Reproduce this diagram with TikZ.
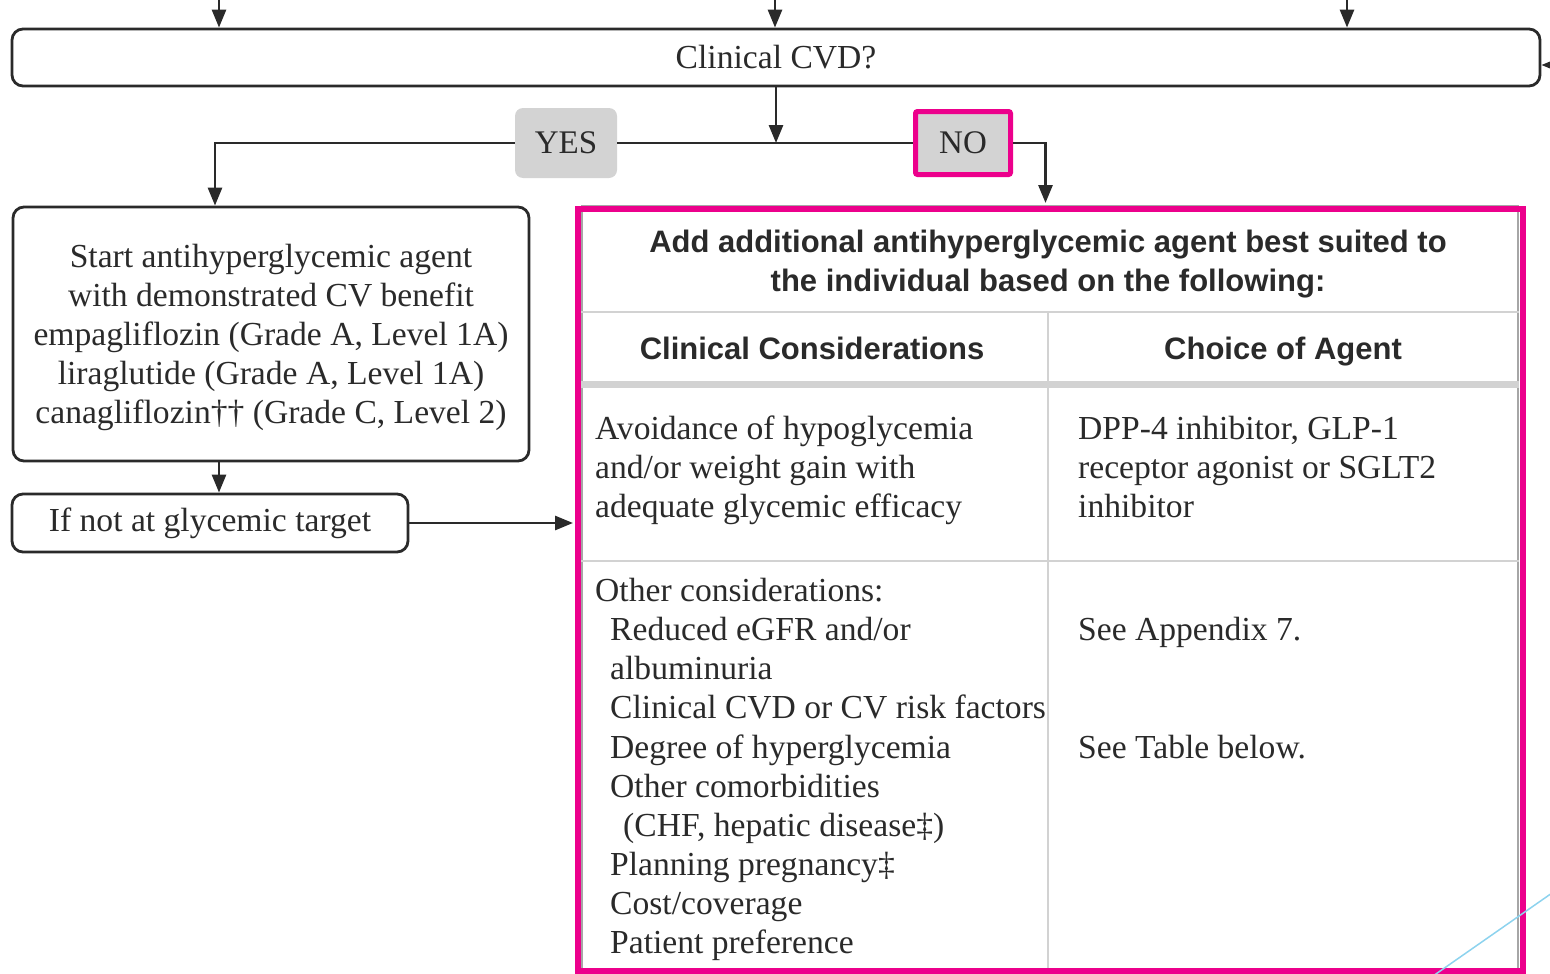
\documentclass[tikz,border=0pt]{standalone}
\usepackage{fontspec}
\setmainfont{Liberation Serif}
\newfontfamily\hdrfont{Liberation Sans}
\usetikzlibrary{arrows.meta,calc}
\definecolor{mag}{HTML}{EC008C}
\definecolor{ink}{HTML}{2A2A2A}
\definecolor{boxgray}{HTML}{D3D3D3}
\definecolor{rulegray}{HTML}{D2D2D2}
\definecolor{cyanl}{HTML}{8DD3EE}
\tikzset{
  box/.style={draw=ink, line width=2.8pt, rounded corners=11pt, fill=white, inner sep=0pt,
    font=\fontsize{33.6}{39}\selectfont, text=ink, align=center},
  arr/.style={draw=ink, line width=2.8pt, -{Triangle[length=18pt,width=14pt]}},
  conn/.style={draw=ink, line width=2.8pt},
  lbl/.style={fill=boxgray, rounded corners=8pt, inner sep=0pt, font=\fontsize{33}{39}\selectfont, text=ink},
  body/.style={font=\fontsize{33.6}{39}\selectfont, text=ink, inner sep=0pt},
  hdr/.style={font=\hdrfont\bfseries\fontsize{31}{39}\selectfont, text=ink, inner sep=0pt, align=center},
  thinrule/.style={draw=rulegray, line width=2pt}
}
\begin{document}
\begin{tikzpicture}[x=1pt,y=-1pt]
\useasboundingbox (0,0) rectangle (1550,974);
% top box
\node[box, minimum width=1528pt, minimum height=57pt] (cvd) at (776,57.5) {Clinical CVD?};
% incoming stubs
\coordinate (in1) at (219,0);
\coordinate (in2) at (775,0);
\coordinate (in3) at (1347,0);
\coordinate (in4) at (1568,65);
\draw[arr] (in1) -- (in1 |- cvd.north);
\draw[arr] (in2) -- (in2 |- cvd.north);
\draw[arr] (in3) -- (in3 |- cvd.north);
\draw[arr] (in4) -- (in4 -| cvd.east);
% yes / no
\node[lbl, minimum width=102pt, minimum height=70pt] (yes) at (566,143) {YES};
\node[lbl, draw=mag, line width=5pt, rounded corners=2pt, minimum width=95pt, minimum height=63pt] (no) at (963,143) {NO};
% left boxes
\node[box, minimum width=516pt, minimum height=254pt, text depth=0pt] (start) at (271,334)
  {Start antihyperglycemic agent\\with demonstrated CV benefit\\empagliflozin (Grade A, Level 1A)\\liraglutide (Grade A, Level 1A)\\canagliflozin\textdagger\textdagger\ (Grade C, Level 2)};
\node[box, minimum width=396pt, minimum height=58pt] (target) at (210,523) {If not at glycemic target};
% table
\draw[draw=gray!70, line width=1.5pt] (582,206) rectangle (1518,975);
\node[draw=mag, line width=6pt, minimum width=945pt, minimum height=762pt, inner sep=0pt] (tbl) at (1050.5,590) {};
\draw[thinrule] (581,312) -- (1519,312);
\draw[draw=rulegray, line width=7pt] (581,384) -- (1519,384);
\draw[thinrule] (581,561) -- (1519,561);
\draw[thinrule] (1048,312) -- (1048,968);
\node[hdr, anchor=base] (title) at (1048,252) {Add additional antihyperglycemic agent best suited to};
\node[hdr, anchor=base] (title2) at (1048,291) {the individual based on the following:};
\node[hdr, anchor=base] (h1) at (812,359) {Clinical Considerations};
\node[hdr, anchor=base] (h2) at (1283,359) {Choice of Agent};
% row 1
\node[body, anchor=base west] (a1) at (595,439) {Avoidance of hypoglycemia};
\node[body, anchor=base west] (a2) at (595,478) {and/or weight gain with};
\node[body, anchor=base west] (a3) at (595,517) {adequate glycemic efficacy};
\node[body, anchor=base west] (b1) at (1078,439) {DPP-4 inhibitor, GLP-1};
\node[body, anchor=base west] (b2) at (1078,478) {receptor agonist or SGLT2};
\node[body, anchor=base west] (b3) at (1078,517) {inhibitor};
% row 2
\node[body, anchor=base west] (c1) at (595,601) {Other considerations:};
\node[body, anchor=base west] (c2) at (610,640) {Reduced eGFR and/or};
\node[body, anchor=base west] (c3) at (610,679) {albuminuria};
\node[body, anchor=base west] (c4) at (610,718) {Clinical CVD or CV risk factors};
\node[body, anchor=base west] (c5) at (610,758) {Degree of hyperglycemia};
\node[body, anchor=base west] (c6) at (610,797) {Other comorbidities};
\node[body, anchor=base west] (c7) at (623,836) {(CHF, hepatic disease\textdaggerdbl)};
\node[body, anchor=base west] (c8) at (610,875) {Planning pregnancy\textdaggerdbl};
\node[body, anchor=base west] (c9) at (610,914) {Cost/coverage};
\node[body, anchor=base west] (c10) at (610,953) {Patient preference};
\node[body, anchor=base west] (d1) at (1078,640) {See Appendix 7.};
\node[body, anchor=base west] (d2) at (1078,758) {See Table below.};
% connectors
\draw[arr] (cvd.south) -- (cvd.south |- yes.east);
\draw[conn] (yes.east) -- (no.west);
\draw[arr] (yes.west) -| ([xshift=-56pt]start.north);
\draw[arr] (no.east) -| ([xshift=-5pt,yshift=3pt]tbl.north);
\draw[arr] ([xshift=-52pt]start.south) -- ([xshift=-52pt]start.south |- target.north);
\draw[arr, shorten >=2pt] (target.east) -- (target.east -| tbl.west);
% cyan decoration
\draw[draw=cyanl, line width=1.5pt] (1433,976) -- (1552,893);
\end{tikzpicture}
\end{document}
